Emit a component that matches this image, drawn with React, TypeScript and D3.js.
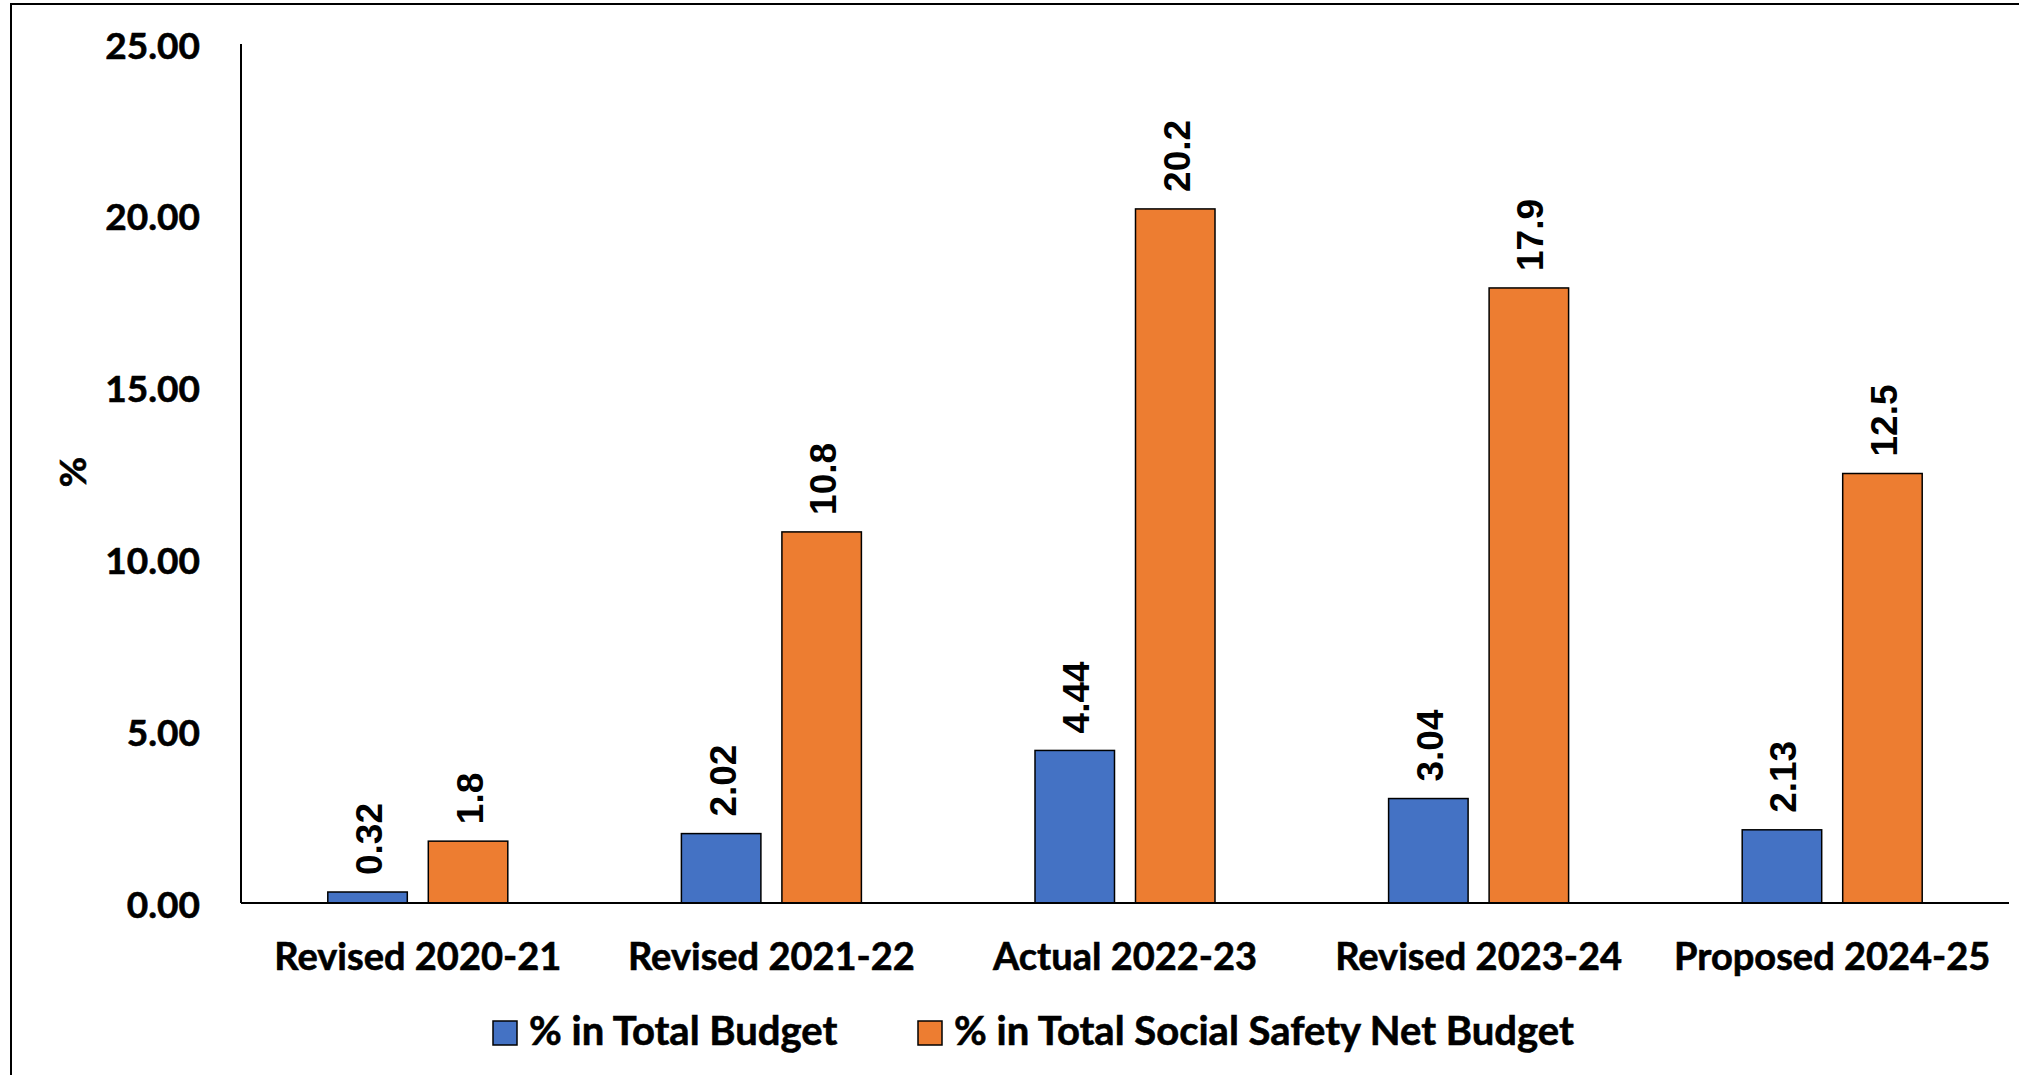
import React from "react";
import * as d3 from "d3";

const categories = [
  "Revised 2020-21",
  "Revised 2021-22",
  "Actual 2022-23",
  "Revised 2023-24",
  "Proposed 2024-25",
];
const seriesNames = ["% in Total Budget", "% in Total Social Safety Net Budget"];
const totalBudget = [0.32, 2.02, 4.44, 3.04, 2.13];
const ssnBudget = [1.8, 10.8, 20.2, 17.9, 12.5];
const dataLabels = [
  ["0.32", "2.02", "4.44", "3.04", "2.13"],
  ["1.8", "10.8", "20.2", "17.9", "12.5"],
];
const yTicks = [0, 5, 10, 15, 20, 25];
const colors = ["#4472C4", "#ED7D31"];

const W = 2019;
const H = 1075;
const axisX = 241;
const plotRight = 2009;
const baseY = 903;
const topY = 44;

const labelFont = "Lato, 'Noto Sans', sans-serif";
const valueFont = "'Liberation Sans', Arial, sans-serif";

// heavier look for the text labels
const heavy = { stroke: "#000", strokeWidth: 0.6, paintOrder: "stroke" as const };

export default function App() {
  const y = d3.scaleLinear().domain([0, 25]).range([baseY, topY]);
  const x0 = d3.scaleBand<string>().domain(categories).range([axisX, plotRight]).padding(0);
  const groupW = 180;
  const outer = (x0.bandwidth() - groupW) / 2;
  const x1 = d3
    .scaleBand<number>()
    .domain([0, 1])
    .range([outer, outer + groupW])
    .paddingInner(0.209)
    .paddingOuter(0);
  const series = [totalBudget, ssnBudget];

  return (
    <svg
      width={W}
      height={H}
      viewBox={`0 0 ${W} ${H}`}
      style={{ position: "absolute", left: 0, top: 0, display: "block", background: "#fff" }}
    >
      <rect x={0} y={0} width={W} height={H} fill="#fff" />
      {/* outer chart frame */}
      <rect x={11} y={4} width={W + 50} height={H + 50} fill="none" stroke="#000" strokeWidth={2} />

      {/* bars */}
      {series.map((vals, si) =>
        vals.map((v, ci) => {
          const bx = (x0(categories[ci]) as number) + (x1(si) as number);
          const bw = x1.bandwidth();
          const top = y(v);
          return (
            <g key={`b-${si}-${ci}`}>
              <rect
                x={bx}
                y={top}
                width={bw}
                height={baseY - top}
                fill={colors[si]}
                stroke="#000"
                strokeWidth={1.5}
              />
              <text
                transform={`translate(${bx + bw / 2 + 2},${top - 17}) rotate(-90)`}
                textAnchor="start"
                dominantBaseline="central"
                fontFamily={valueFont}
                fontWeight="bold"
                fontSize={37}
                fill="#000"
              >
                {dataLabels[si][ci]}
              </text>
            </g>
          );
        })
      )}

      {/* axes */}
      <line x1={axisX} x2={axisX} y1={topY} y2={baseY} stroke="#000" strokeWidth={2} />
      <line x1={axisX} x2={plotRight} y1={baseY} y2={baseY} stroke="#000" strokeWidth={2} />

      {yTicks.map((t) => (
        <text
          key={`t-${t}`}
          x={200}
          y={y(t)}
          textAnchor="end"
          dominantBaseline="central"
          fontFamily={labelFont}
          fontWeight="bold"
          fontSize={37}
          fill="#000"
          {...heavy}
        >
          {d3.format(".2f")(t)}
        </text>
      ))}

      <text
        transform={`translate(71,472) rotate(-90)`}
        textAnchor="middle"
        dominantBaseline="central"
        fontFamily={labelFont}
        fontWeight="bold"
        fontSize={37}
        fill="#000"
        {...heavy}
      >
        %
      </text>

      {categories.map((c) => (
        <text
          key={`c-${c}`}
          x={(x0(c) as number) + x0.bandwidth() / 2}
          y={970}
          textAnchor="middle"
          fontFamily={labelFont}
          fontWeight="bold"
          fontSize={38}
          fill="#000"
          {...heavy}
        >
          {c}
        </text>
      ))}

      {/* legend */}
      {seriesNames.map((name, i) => {
        const lx = [493, 918][i];
        return (
          <g key={`l-${i}`}>
            <rect x={lx} y={1021} width={24} height={24} fill={colors[i]} stroke="#000" strokeWidth={1.5} />
            <text
              x={lx + 36}
              y={1045}
              fontFamily={labelFont}
              fontWeight="bold"
              fontSize={40}
              fill="#000"
              {...heavy}
            >
              {name}
            </text>
          </g>
        );
      })}
    </svg>
  );
}
